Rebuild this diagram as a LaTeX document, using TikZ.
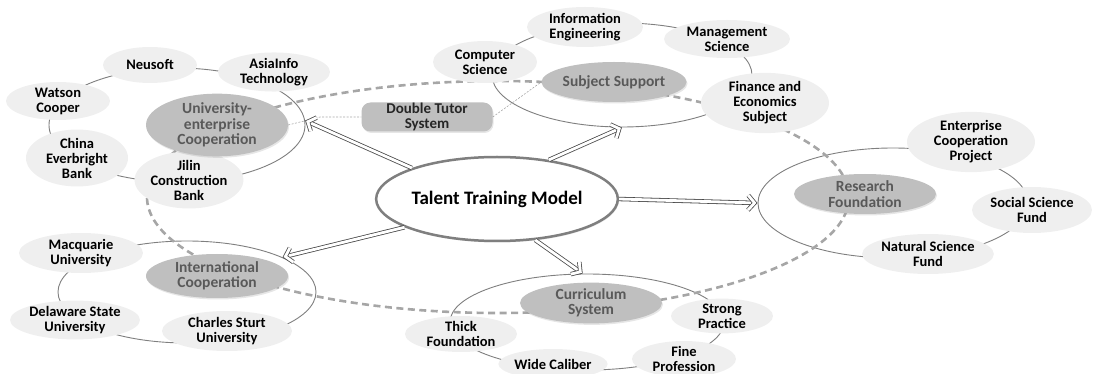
\documentclass[tikz,border=0pt]{standalone}
\usepackage{fontspec}
\setmainfont{Carlito}
\usetikzlibrary{shapes.geometric,arrows.meta,shadows,calc}
\definecolor{satfill}{HTML}{EFEFEF}
\definecolor{hubfill}{HTML}{BFBFBF}
\definecolor{hubtext}{HTML}{595959}
\definecolor{ringcol}{HTML}{7F7F7F}
\definecolor{dashcol}{HTML}{A6A6A6}
\definecolor{arrowcol}{HTML}{4A4A4A}
\newcommand{\flowarrow}[2]{%
  \draw[linkarrow] (#1) -- ($(#2)!5pt!(#1)$);
  \draw[linkarrow, line join=miter] ($(#2)!12pt!38:(#1)$) -- ($(#2)!3pt!(#1)$) -- ($(#2)!12pt!-38:(#1)$);
}
\begin{document}
\begin{tikzpicture}[x=1pt,y=-1pt,
  esize/.style 2 args={minimum width=#1pt, minimum height=#2pt},
  satnode/.style={ellipse, fill=satfill, inner sep=0pt, align=center,
    font=\fontsize{14.5}{15}\selectfont\bfseries, text=black},
  hubnode/.style={ellipse, fill=hubfill, inner sep=0pt, align=center,
    font=\fontsize{15.5}{15.5}\selectfont\bfseries, text=hubtext,
    drop shadow={opacity=.2, shadow xshift=1pt, shadow yshift=-1.5pt}},
  ringbox/.style={ellipse, draw=ringcol, line width=.9pt, inner sep=0pt},
  framebox/.style={ellipse, draw=dashcol, line width=2.6pt, dash pattern=on 7pt off 4.5pt, inner sep=0pt},
  linkarrow/.style={draw=arrowcol, line width=.8pt, double=white, double distance=2.8pt},
  tutorline/.style={draw=gray!70, line width=.6pt, dash pattern=on 2pt off 1.5pt},
  mainnode/.style={ellipse, draw=ringcol, line width=2.5pt, fill=white, inner sep=0pt,
    font=\fontsize{19}{20}\selectfont\bfseries,
    drop shadow={opacity=.2, shadow xshift=1pt, shadow yshift=-1.5pt}},
  tutorbox/.style={rectangle, rounded corners=9pt, fill=hubfill, inner sep=0pt, align=center,
    font=\fontsize{15}{14.5}\selectfont\bfseries, text=black!85,
    drop shadow={opacity=.2, shadow xshift=1pt, shadow yshift=-1.5pt}},
]
\useasboundingbox (0,0) rectangle (1093,374);

% group rings
\node[ringbox, esize={256}{114}] (g1) at (177,125) {};
\node[ringbox, esize={260}{104}] (g2) at (622,75) {};
\node[ringbox, esize={270}{110}] (g3) at (893,203) {};
\node[ringbox, esize={258}{102}] (g4) at (187,292) {};
\node[ringbox, esize={274}{96}] (g5) at (587,322) {};

% big dashed frame
\node[framebox, esize={702}{232}] (frame) at (498,197) {};

% satellites: university-enterprise
\node[satnode, esize={94}{36}] (neusoft) at (150,65) {Neusoft};
\node[satnode, esize={112}{36}] (asia) at (274,72) {AsiaInfo\\Technology};
\node[satnode, esize={104}{38}] (watson) at (58,101) {Watson\\Cooper};
\node[satnode, esize={102}{44}] (china) at (77,158) {China\\Everbright\\Bank};
\node[satnode, esize={102}{48}] (jilin) at (189,180) {Jilin\\Construction\\Bank};

% satellites: subject support
\node[satnode, esize={104}{42}] (compsci) at (485,62) {Computer\\Science};
\node[satnode, esize={116}{40}] (infoeng) at (585,27) {Information\\Engineering};
\node[satnode, esize={126}{38}] (mgmt) at (727,39) {Management\\Science};
\node[satnode, esize={128}{52}] (finance) at (765,103) {Finance and\\Economics\\Subject};

% satellites: research
\node[satnode, esize={128}{48}] (entproj) at (971,142) {Enterprise\\Cooperation\\Project};
\node[satnode, esize={120}{46}] (social) at (1032,210) {Social Science\\Fund};
\node[satnode, esize={130}{40}] (natural) at (928,254) {Natural Science\\Fund};

% satellites: international
\node[satnode, esize={124}{40}] (macq) at (81,253) {Macquarie\\University};
\node[satnode, esize={130}{38}] (delaware) at (75,320) {Delaware State\\University};
\node[satnode, esize={130}{40}] (charles) at (227,331) {Charles Sturt\\University};

% satellites: curriculum
\node[satnode, esize={112}{36}] (thick) at (461,334) {Thick\\Foundation};
\node[satnode, esize={100}{30}] (wide) at (553,364) {Wide Caliber};
\node[satnode, esize={102}{34}] (strong) at (722,316) {Strong\\Practice};
\node[satnode, esize={104}{36}] (fine) at (684,359) {Fine\\Profession};

% hubs
\node[hubnode, esize={142}{48}] (uni) at (217,125) {University-\\enterprise\\Cooperation};
\node[hubnode, esize={142}{40}] (subj) at (614,82) {Subject Support};
\node[hubnode, esize={142}{40}] (research) at (865,194) {Research\\Foundation};
\node[hubnode, esize={142}{44}] (intl) at (217,276) {International\\Cooperation};
\node[hubnode, esize={142}{38}] (curr) at (591,303) {Curriculum\\System};
\node[tutorbox, minimum width=131pt, minimum height=29pt] (dts) at (427,117) {Double Tutor\\System};

% tutor links
\draw[tutorline] (uni.east) -- ++(32,-8) -- (dts.west);
\draw[tutorline] (dts.east) -- (subj.west);

% main node and arrows
\node[mainnode, minimum width=210pt, minimum height=84pt] (main) at (497,199) {Talent Training Model};
\flowarrow{main.160}{g1.2}
\flowarrow{main.37}{g2.270}
\flowarrow{main.0}{g3.180}
\flowarrow{main.197}{g4.20}
\flowarrow{main.313}{g5.95}
\end{tikzpicture}
\end{document}
